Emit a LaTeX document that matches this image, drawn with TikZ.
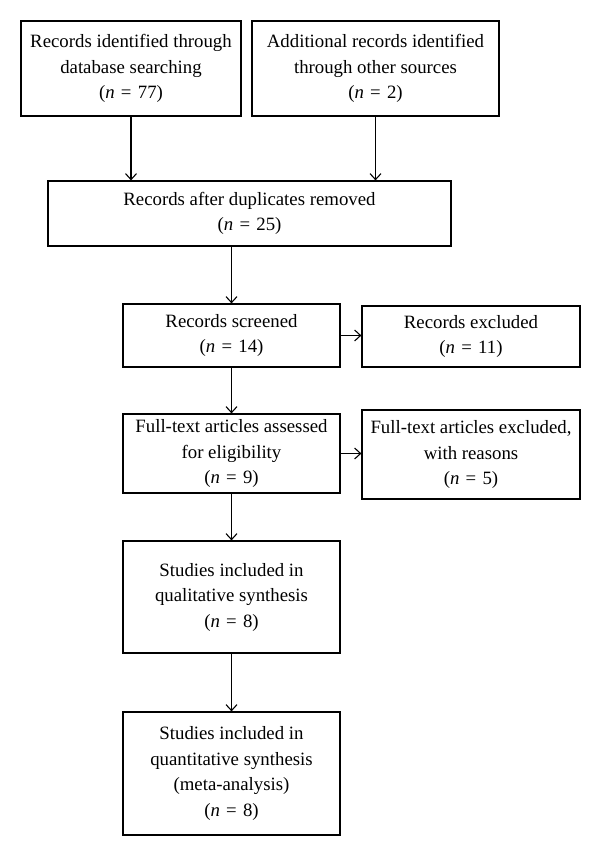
\documentclass[tikz,border=0pt]{standalone}
\usepackage{fontspec}
\setmainfont{Liberation Serif}
\usetikzlibrary{arrows.meta,positioning,calc}

\tikzset{
    box/.style={draw=black, line width=1.2pt, align=center, inner sep=0pt, font=\fontsize{18.8}{25.5}\selectfont},
    flow/.style={draw=black, line width=1.2pt, -{Straight Barb[length=6pt,width=11pt,line width=1.1pt]}}
}
\newcommand{\Ncount}[1]{(\textit{n}\,\,=\,\,#1)}

\begin{document}
\begin{tikzpicture}[x=1pt,y=-1pt]
    %Canvas - same size as the original figure%
    %===========================================================
    \useasboundingbox (0,0) rectangle (600,856);
    \def \ColW {217pt}; %Width of the boxes in the middle column
    \def \SideW {218pt}; %Width of the boxes on the right
    \def \ColX {231.5}; %Centre of the middle column
    %Identification%
    %===========================================================
    \node (database) at (131,68.5) [box, minimum width=220pt, minimum height=95pt] {Records identified through\\database searching\\\Ncount{77}};
    \node (other) at (375.5,68.5) [box, minimum width=247pt, minimum height=95pt] {Additional records identified\\through other sources\\\Ncount{2}};
    \node (duplicates) at (249.5,213.5) [box, minimum width=403pt, minimum height=65pt] {Records after duplicates removed\\\Ncount{25}};
    %Screening and eligibility%
    %===========================================================
    \node (screened) at (\ColX,335.5) [box, minimum width=\ColW, minimum height=63pt] {Records screened\\\Ncount{14}};
    \node (excluded) at (471,336.5) [box, minimum width=\SideW, minimum height=61pt] {Records excluded\\\Ncount{11}};
    \node (fulltext) at (\ColX,453.5) [box, minimum width=\ColW, minimum height=79pt] {Full-text articles assessed\\for eligibility\\\Ncount{9}};
    \node (reasons) at (471,454.5) [box, minimum width=\SideW, minimum height=89pt] {Full-text articles excluded,\\with reasons\\\Ncount{5}};
    %Included%
    %===========================================================
    \node (qualitative) at (\ColX,597) [box, minimum width=\ColW, minimum height=112pt] {Studies included in\\qualitative synthesis\\\Ncount{8}};
    \node (quantitative) at (\ColX,773.5) [box, minimum width=\ColW, minimum height=123pt] {Studies included in\\quantitative synthesis\\(meta-analysis)\\\Ncount{8}};
    %Connectors%
    \draw[flow] (database) -- (database |- duplicates.north);
    \draw[flow] (other) -- (other |- duplicates.north);
    \draw[flow] (screened |- duplicates.south) -- (screened);
    \draw[flow] (screened.east) -- (screened.east -| excluded.west);
    \draw[flow] (screened) -- (fulltext);
    \draw[flow] (fulltext.east) -- (fulltext.east -| reasons.west);
    \draw[flow] (fulltext) -- (qualitative);
    \draw[flow] (qualitative) -- (quantitative);
\end{tikzpicture}
\end{document}
